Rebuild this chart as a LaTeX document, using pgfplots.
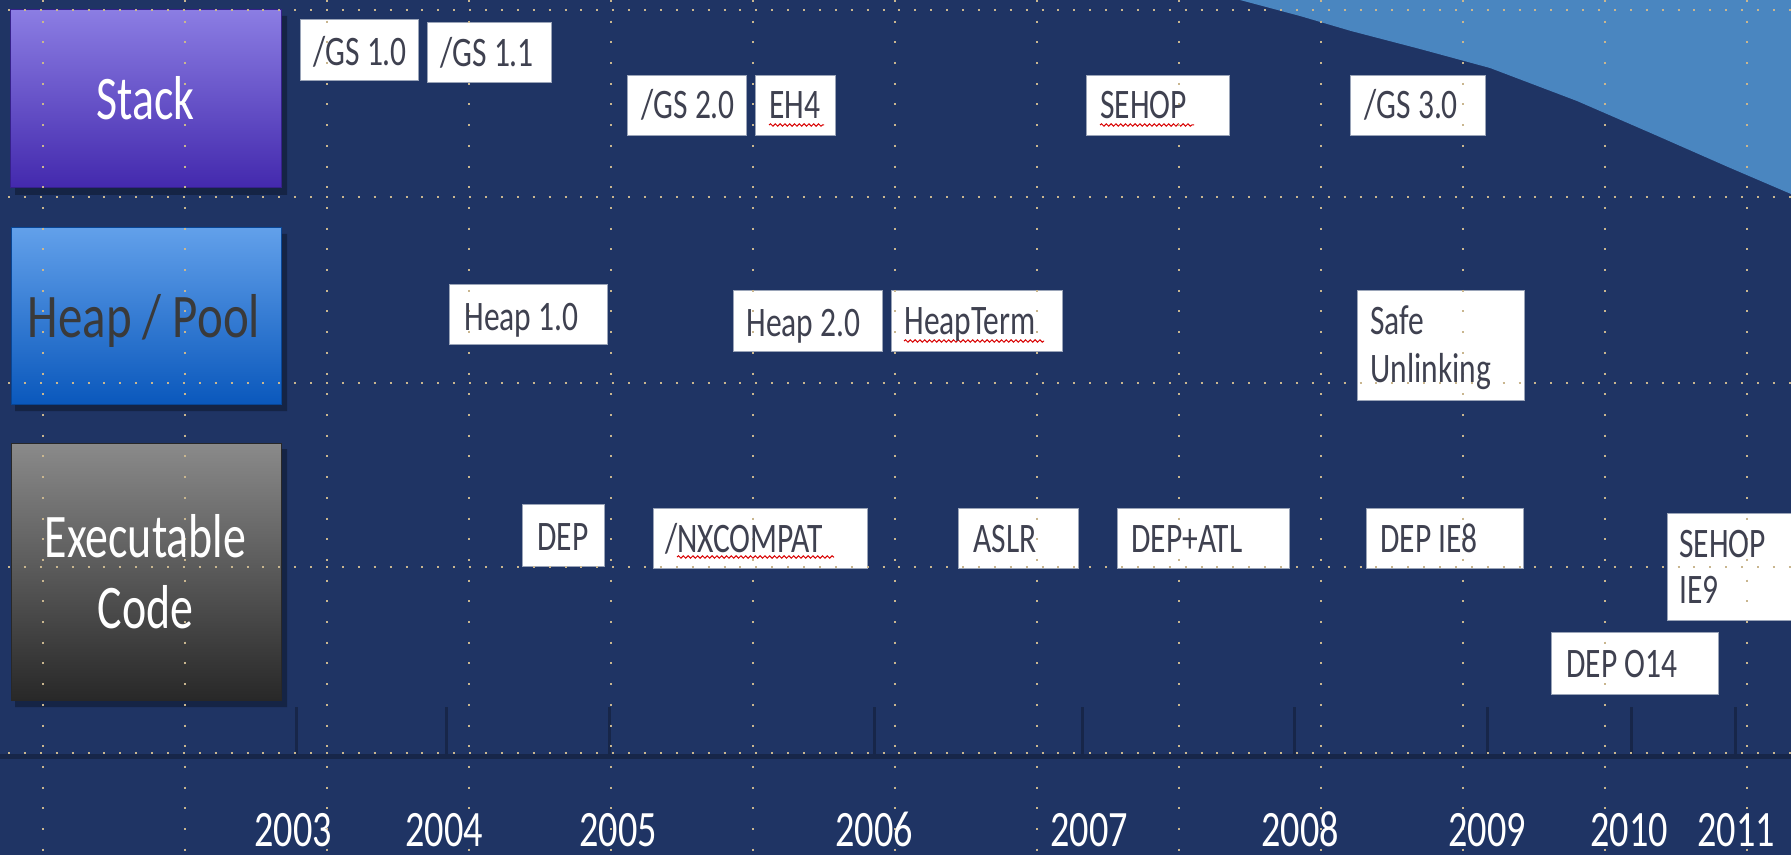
\documentclass[border=0pt]{standalone}
\usepackage{pgfplots}
\pgfplotsset{compat=1.18}
\usepackage{fontspec}
\setmainfont{Carlito}
\usetikzlibrary{decorations.pathmorphing}
\definecolor{bgnavy}{HTML}{1F3464}
\definecolor{curveblue}{HTML}{4A86C0}
\definecolor{griddot}{HTML}{C9B68F}
\definecolor{stackTop}{HTML}{8B7DE3}
\definecolor{stackBot}{HTML}{4329AD}
\definecolor{heapTop}{HTML}{62A0EA}
\definecolor{heapBot}{HTML}{0A58BC}
\definecolor{execTop}{HTML}{8A8A8A}
\definecolor{execBot}{HTML}{282828}
\definecolor{boxtext}{HTML}{3F4150}
\definecolor{heaptext}{HTML}{3A3A3A}
\definecolor{boxedge}{HTML}{9AA4B8}
\definecolor{tickdark}{HTML}{172649}
\newcommand{\wbox}[4]{\addplot[fill=white, draw=boxedge, line width=0.5pt] coordinates {(#1,#2) (#3,#2) (#3,#4) (#1,#4) (#1,#2)};}
\newcommand{\sq}[3]{\addplot[draw=red!85!black, line width=0.5pt, decorate, decoration={snake, amplitude=0.6pt, segment length=2.4pt}] coordinates {(#1,#3) (#2,#3)};}
\newcommand{\shad}[4]{\addplot[fill=black, fill opacity=0.3, draw=none] coordinates {(#1,#2) (#3,#2) (#3,#4) (#1,#4) (#1,#2)};}
\begin{document}
\begin{tikzpicture}
\begin{axis}[
  name=main,
  width=895.5pt, height=427.5pt, scale only axis,
  xmin=0, xmax=1791, ymin=0, ymax=855, y dir=reverse,
  axis line style={draw=none},
  xtick={43,185,...,1747}, ytick={10,197,383,567,753},
  xticklabels={}, yticklabels={},
  major tick length=0pt,
  tick label style={inner sep=0pt, outer sep=0pt},
  grid=major,
  major x grid style={draw=griddot, line width=1pt, dash pattern=on 1pt off 9.35pt},
  major y grid style={draw=griddot, line width=1pt, dash pattern=on 1pt off 6.95pt, dash phase=3.95pt},
  axis background/.style={fill=bgnavy},
  axis on top,
]
% light blue curved area, top right
\addplot[fill=curveblue, draw=none] coordinates {
  (1240,0) (1300,16) (1351,31) (1420,49) (1490,68) (1577,101) (1653,134) (1728,167) (1791,194) (1791,0) (1240,0)};

% timeline
\addplot[draw=tickdark, line width=2.5pt] coordinates {(0,756) (1791,756)};
\pgfplotsinvokeforeach{296,446,609,874,1082,1294,1487,1631,1735}{
  \addplot[draw=tickdark, line width=1.5pt] coordinates {(#1,707) (#1,758)};
}

% category boxes
\shad{15}{16}{287}{195}
\shad{15}{234}{287}{411}
\shad{15}{449}{287}{707}
\addplot[top color=stackTop, bottom color=stackBot, draw=stackBot!80!black, line width=0.5pt] coordinates {(10,10) (281,10) (281,188) (10,188) (10,10)};
\addplot[top color=heapTop, bottom color=heapBot, draw=heapBot!80!black, line width=0.5pt] coordinates {(11,228) (281,228) (281,404) (11,404) (11,228)};
\addplot[top color=execTop, bottom color=execBot, draw=execBot, line width=0.5pt] coordinates {(11,443) (281,443) (281,700) (11,700) (11,443)};

\addplot[draw=none, nodes near coords={\scalebox{0.74}[1]{\pgfplotspointmeta}}, point meta=explicit symbolic,
  every node near coord/.append style={anchor=base, inner sep=0pt, text=white, font=\fontsize{31}{36}\selectfont}]
  table[meta=label] {
x y label
145.5 120 Stack
145.5 557 Executable
145.5 628 Code
};
\addplot[draw=none, nodes near coords={\scalebox{0.79}[1]{\pgfplotspointmeta}}, point meta=explicit symbolic,
  every node near coord/.append style={anchor=base, inner sep=0pt, text=heaptext, font=\fontsize{31}{36}\selectfont}]
  table[meta=label] {
x y label
144 337 {Heap / Pool}
};

% white label boxes
\wbox{300}{20}{418}{81}
\wbox{427}{23}{551}{83}
\wbox{627}{76}{746}{136}
\wbox{755}{76}{835}{136}
\wbox{1086}{76}{1229}{136}
\wbox{1350}{76}{1485}{136}
\wbox{449}{285}{607}{344}
\wbox{733}{291}{882}{351}
\wbox{891}{291}{1062}{351}
\wbox{1357}{291}{1524}{400}
\wbox{522}{504}{604}{566}
\wbox{653}{508}{867}{568}
\wbox{958}{508}{1078}{568}
\wbox{1117}{508}{1289}{568}
\wbox{1366}{508}{1523}{568}
\wbox{1667}{513}{1795}{620}
\wbox{1551}{632}{1718}{694}

% spell-check squiggles
\sq{769}{824}{125}
\sq{1100}{1194}{125}
\sq{904}{1044}{341}
\sq{677}{834}{557}

% label texts
\addplot[draw=none, nodes near coords={\scalebox{0.75}[1]{\pgfplotspointmeta}}, point meta=explicit symbolic,
  every node near coord/.append style={anchor=base west, inner sep=0pt, text=boxtext, font=\fontsize{21}{25}\selectfont}]
  table[meta=label] {
x y label
313 66 {/GS 1.0}
440 67 {/GS 1.1}
641 119 {/GS 2.0}
769 119 EH4
1100 119 SEHOP
1364 119 {/GS 3.0}
464 330 {Heap 1.0}
746 336 {Heap 2.0}
904 335 HeapTerm
1370 335 Safe
1370 382 Unlinking
537 550 DEP
665 552 /NXCOMPAT
973 552 ASLR
1131 552 DEP+ATL
1380 552 {DEP IE8}
1679 557 SEHOP
1679 603 IE9
1566 677 {DEP O14}
};

% year labels
\addplot[draw=none, nodes near coords={\scalebox{0.75}[1]{\pgfplotspointmeta}}, point meta=explicit symbolic,
  every node near coord/.append style={anchor=base, inner sep=0pt, text=white, font=\fontsize{25.5}{28}\selectfont}]
  table[meta=label] {
x y label
293 846 2003
444 846 2004
618 846 2005
874 846 2006
1089 846 2007
1300 846 2008
1487 846 2009
1629 846 2010
1736 846 2011
};
\end{axis}
\pgfresetboundingbox
\path[use as bounding box] (main.south west) rectangle (main.north east);
\end{tikzpicture}
\end{document}
